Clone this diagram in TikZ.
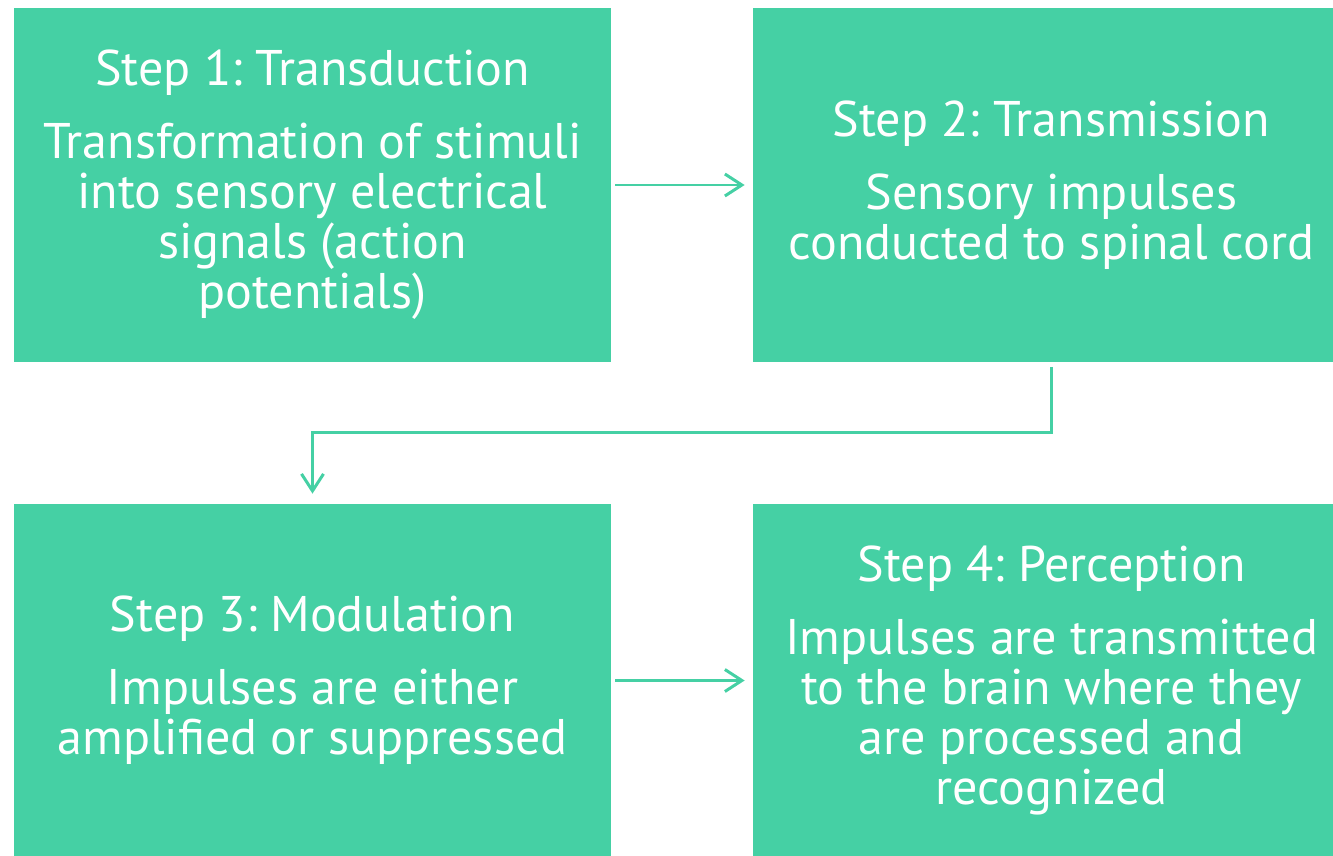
\documentclass[tikz,border=0pt]{standalone}
\usepackage{fontspec}
\setmainfont{PT Sans}
\usepackage{tikz}
\usetikzlibrary{arrows.meta, positioning, calc}
\definecolor{myteal}{RGB}{69,208,164}
\frenchspacing
\tikzset{
  stepbox/.style={rectangle, fill=myteal, text=white, inner sep=0pt,
    align=center, minimum width=11.94cm, minimum height=7.06cm,
    font=\fontsize{28.5}{28.5}\selectfont},
  arrow/.style={-{Straight Barb[length=0.34cm, width=0.44cm]}, line width=1.7pt, color=myteal}
}

\begin{document}
\begin{tikzpicture}
  \useasboundingbox (0,0) rectangle (26.66,-17.12);
  % Step blocks
  \node[stepbox] (s1) at (6.25,-3.70)
    {Step 1: Transduction\\[0.45cm]Transformation of stimuli\\into sensory electrical\\signals (action\\potentials)};
  \node[stepbox] (s2) at (21.03,-3.70)
    {Step 2: Transmission\\[0.45cm]Sensory impulses\\conducted to spinal cord};
  \node[stepbox] (s3) at (6.25,-13.61)
    {Step 3: Modulation\\[0.45cm]Impulses are either\\amplified or suppressed};
  \node[stepbox] (s4) at (21.03,-13.61)
    {Step 4: Perception\\[0.45cm]Impulses are transmitted\\to the brain where they\\are processed and\\recognized};

  % Connectors
  \draw[arrow, shorten <=0.08cm, shorten >=0.16cm] (s1) -- (s2);
  \draw[arrow, shorten >=0.2cm] ([yshift=-0.1cm]s2.south) -- ++(0,-1.32) -| (s3.north);
  \draw[arrow, shorten <=0.08cm, shorten >=0.16cm] (s3) -- (s4);
\end{tikzpicture}
\end{document}
